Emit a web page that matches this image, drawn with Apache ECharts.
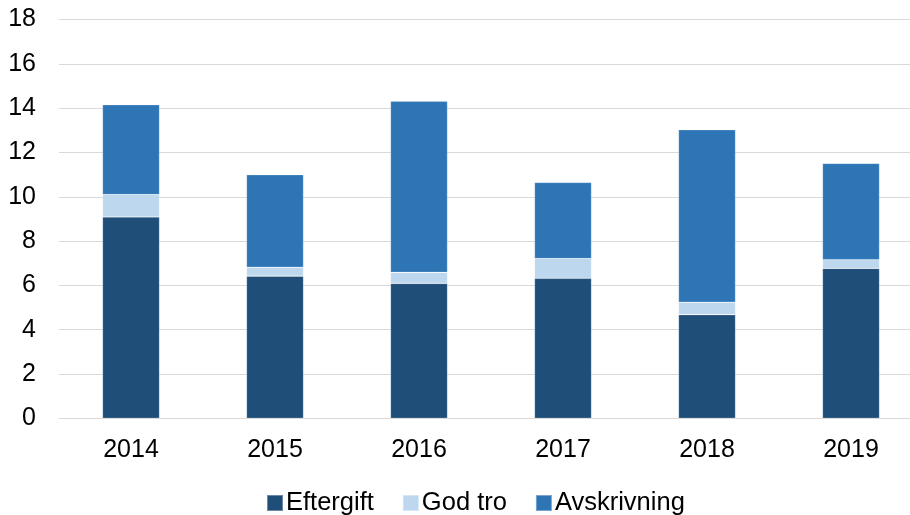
<!DOCTYPE html>
<html>
<head>
<meta charset="utf-8">
<script src="https://cdn.jsdelivr.net/npm/echarts@6/dist/echarts.min.js"></script>
<style>
  html, body { margin: 0; padding: 0; background: #fff; }
  #main { width: 910px; height: 515px; }
</style>
</head>
<body>
<div id="main"></div>
<script>
// år
var years = ['2014', '2015', '2016', '2017', '2018', '2019'];
// serier
var eftergift = [9.09, 6.42, 6.09, 6.32, 4.68, 6.77];
var godTro = [1.01, 0.40, 0.50, 0.89, 0.56, 0.39];
var avskrivning = [4.06, 4.18, 7.73, 3.44, 7.79, 4.35];

var chart = echarts.init(document.getElementById('main'));

var fontBase = 'Arial, "Liberation Sans", sans-serif';

function bar(name, data, color){
    return {
        name: name,
        type: 'bar',
        stack: 'total',
        barWidth: '39.6%',
        data: data,
        itemStyle: { color: color, borderColor: 'rgba(255,255,255,0.35)', borderWidth: 0.6 },
        emphasis: { disabled: true }
    };
}

chart.setOption({
    animation: false,
    textStyle: { fontFamily: fontBase },
    // plottet går litt ut over høyre kant i originalen
    grid: { left: 59, width: 864, top: 19.6, bottom: 96.7, outerBoundsMode: 'none', containLabel: false },
    legend: {
        left: 266,
        top: 490,
        padding: 0,
        itemWidth: 16,
        itemHeight: 16,
        itemGap: 28,
        icon: 'rect',
        textStyle: { fontSize: 25.5, color: '#000', fontFamily: fontBase, padding: [0, 0, 0, -2] },
        data: ['Eftergift', 'God tro', 'Avskrivning']
    },
    xAxis: {
        type: 'category',
        data: years,
        axisLine: { lineStyle: { color: '#D9D9D9', width: 1 } },
        axisTick: { show: false },
        axisLabel: { fontSize: 25, color: '#000', margin: 19, fontFamily: fontBase }
    },
    yAxis: {
        type: 'value',
        min: 0,
        max: 18,
        interval: 2,
        axisLine: { show: false },
        axisTick: { show: false },
        axisLabel: { fontSize: 25, color: '#000', margin: 23, fontFamily: fontBase },
        splitLine: { lineStyle: { color: '#D9D9D9', width: 1 } }
    },
    series: [
        bar('Eftergift', eftergift, '#1F4E79'),
        bar('God tro', godTro, '#BDD7EE'),
        bar('Avskrivning', avskrivning, '#2E75B6')
    ]
});
</script>
</body>
</html>
